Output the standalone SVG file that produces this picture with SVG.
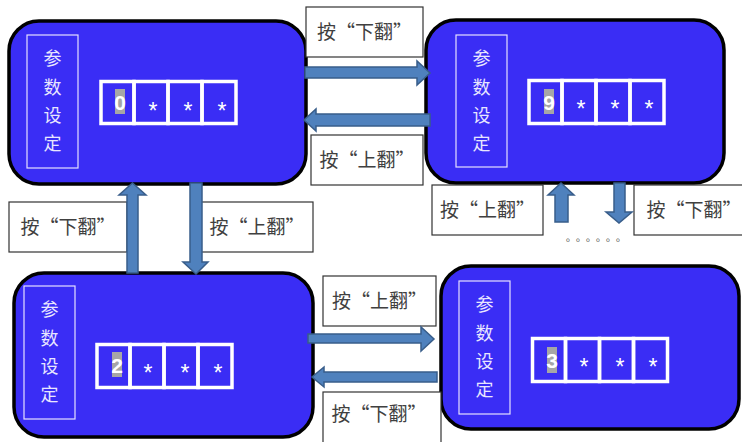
<svg xmlns="http://www.w3.org/2000/svg" width="742" height="442" viewBox="0 0 742 442">
<style>
.box{fill:#3A2DF5;stroke:#000;stroke-width:3.5}
.tag{fill:none;stroke:#E4E0FF;stroke-width:1.2}
.vt{font-family:"Noto Sans CJK SC","Noto Sans",sans-serif;font-size:18px;fill:#E8E6FF;text-anchor:middle}
.cell{fill:none;stroke:#fff;stroke-width:3.5}
.hl{fill:#A6A6A6}
.dg{font-family:"Liberation Sans",Arial,sans-serif;font-size:21px;font-weight:bold;fill:#fff;text-anchor:middle}
.st{font-family:"Liberation Sans",Arial,sans-serif;font-size:23px;fill:#fff;text-anchor:middle}
.lb{fill:#fff;stroke:#333;stroke-width:1.2}
.lt{font-family:"Noto Sans CJK SC","Noto Sans",sans-serif;font-size:19px;fill:#404040;text-anchor:middle}
.ar{fill:#4F81BD;stroke:#385D8A;stroke-width:1.5}
</style>

<g id="node-0">
<rect class="box" x="9" y="21" width="297" height="163" rx="30"/>
<rect class="tag" x="27" y="35" width="51" height="133"/>
<text class="vt" x="52.5" y="65">参</text>
<text class="vt" x="52.5" y="94">数</text>
<text class="vt" x="52.5" y="122">设</text>
<text class="vt" x="52.5" y="150">定</text>
<rect class="cell" x="101" y="81.5" width="33" height="42"/>
<rect class="cell" x="134" y="81.5" width="34" height="42"/>
<rect class="cell" x="168" y="81.5" width="34" height="42"/>
<rect class="cell" x="202" y="81.5" width="34" height="42"/>
<rect class="hl" x="115" y="89" width="10" height="25"/>
<text class="dg" x="120" y="110">0</text>
<text class="st" x="153" y="119">*</text>
<text class="st" x="188" y="119">*</text>
<text class="st" x="222" y="119">*</text>
</g>

<g id="node-9">
<rect class="box" x="426" y="20" width="298" height="163" rx="30"/>
<rect class="tag" x="456" y="35" width="51" height="132"/>
<text class="vt" x="481.5" y="65">参</text>
<text class="vt" x="481.5" y="94">数</text>
<text class="vt" x="481.5" y="122">设</text>
<text class="vt" x="481.5" y="150">定</text>
<rect class="cell" x="529" y="80.5" width="33" height="43"/>
<rect class="cell" x="562" y="80.5" width="34" height="43"/>
<rect class="cell" x="596" y="80.5" width="34" height="43"/>
<rect class="cell" x="630" y="80.5" width="34" height="43"/>
<rect class="hl" x="544" y="89" width="10" height="25"/>
<text class="dg" x="549" y="110">9</text>
<text class="st" x="581" y="117">*</text>
<text class="st" x="615" y="117">*</text>
<text class="st" x="649" y="117">*</text>
</g>

<g id="node-2">
<rect class="box" x="14" y="273" width="299" height="164" rx="30"/>
<rect class="tag" x="24" y="286" width="51" height="133"/>
<text class="vt" x="49.5" y="316">参</text>
<text class="vt" x="49.5" y="345">数</text>
<text class="vt" x="49.5" y="373">设</text>
<text class="vt" x="49.5" y="401">定</text>
<rect class="cell" x="97" y="344.5" width="33" height="43"/>
<rect class="cell" x="130" y="344.5" width="34" height="43"/>
<rect class="cell" x="164" y="344.5" width="34" height="43"/>
<rect class="cell" x="198" y="344.5" width="34" height="43"/>
<rect class="hl" x="112" y="352" width="10" height="25"/>
<text class="dg" x="117" y="373">2</text>
<text class="st" x="148" y="381">*</text>
<text class="st" x="185" y="381">*</text>
<text class="st" x="218" y="381">*</text>
</g>

<g id="node-3">
<rect class="box" x="441" y="266" width="298" height="163" rx="30"/>
<rect class="tag" x="459" y="281" width="51" height="133"/>
<text class="vt" x="484.5" y="311">参</text>
<text class="vt" x="484.5" y="340">数</text>
<text class="vt" x="484.5" y="368">设</text>
<text class="vt" x="484.5" y="396">定</text>
<rect class="cell" x="532.5" y="338.5" width="33" height="43"/>
<rect class="cell" x="565.5" y="338.5" width="34" height="43"/>
<rect class="cell" x="599.5" y="338.5" width="34" height="43"/>
<rect class="cell" x="633.5" y="338.5" width="34" height="43"/>
<rect class="hl" x="547" y="347" width="10" height="26"/>
<text class="dg" x="552" y="368">3</text>
<text class="st" x="584" y="375">*</text>
<text class="st" x="620" y="375">*</text>
<text class="st" x="653" y="375">*</text>
</g>

<g id="labels">
<rect class="lb" x="306" y="7" width="117" height="50"/>
<text class="lt" x="364.5" y="39">按“下翻”</text>
<rect class="lb" x="311" y="135" width="112" height="50"/>
<text class="lt" x="367" y="167">按“上翻”</text>
<rect class="lb" x="9" y="202" width="118" height="50"/>
<text class="lt" x="68" y="234">按“下翻”</text>
<rect class="lb" x="201" y="202" width="112" height="50"/>
<text class="lt" x="257" y="234">按“上翻”</text>
<rect class="lb" x="432" y="185" width="111" height="50"/>
<text class="lt" x="487.5" y="217">按“上翻”</text>
<rect class="lb" x="634" y="185" width="120" height="50"/>
<text class="lt" x="694" y="217">按“下翻”</text>
<rect class="lb" x="323" y="276" width="113" height="50"/>
<text class="lt" x="379.5" y="308">按“上翻”</text>
<rect class="lb" x="323" y="392" width="118" height="60"/>
<text class="lt" x="379" y="421">按“下翻”</text>
<text x="566 576 586 596 606 616" y="241" font-family="'Noto Sans CJK SC',sans-serif" font-size="10" fill="#333">。。。。。。</text>
</g>

<g id="connectors">
<polygon class="ar" points="305,67 417,67 417,61 430,73 417,85 417,78 305,78"/>
<polygon class="ar" points="430,114 316,114 316,109 304,120 316,131 316,126 430,126"/>
<polygon class="ar" points="127,273 127,195 119,195 132.5,183 146,195 138,195 138,273"/>
<polygon class="ar" points="190,183 202,183 202,262 208,262 196,274 183,262 190,262"/>
<polygon class="ar" points="555,222 555,195 548,195 561,183 574,195 568,195 568,222"/>
<polygon class="ar" points="614,183 625,183 625,212 632,212 619,223 606,212 614,212"/>
<polygon class="ar" points="308,334 421,334 421,327 434,339 421,351 421,343 308,343"/>
<polygon class="ar" points="437,372 324,372 324,367 312,377 324,387 324,382 437,382"/>
</g>
</svg>
